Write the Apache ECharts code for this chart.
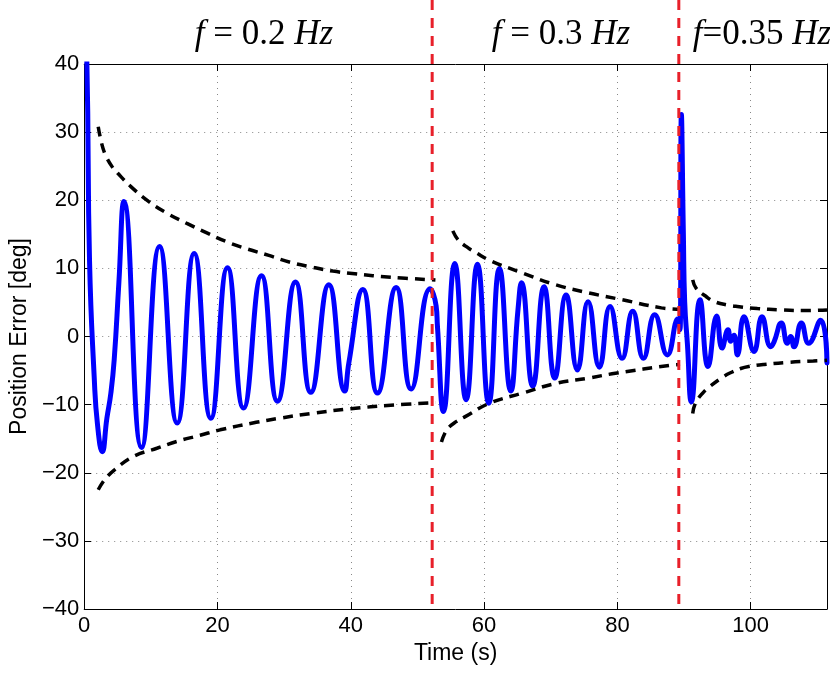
<!DOCTYPE html>
<html><head><meta charset="utf-8">
<script src="https://cdn.jsdelivr.net/npm/echarts@6/dist/echarts.min.js"></script>
<style>html,body{margin:0;padding:0;background:#fff}#c{width:830px;height:673px}</style>
</head><body><div id="c"></div>
<script>
// ---- data ----
const timeS = [0, 0.4, 0.8, 1.5, 2.0, 2.7, 3.4, 4.0, 4.5, 5.2, 5.96, 8.6, 11.3, 13.95, 16.5, 19.0, 21.5, 23.9, 26.6, 29.0, 31.7, 34.0, 36.7, 39.1, 39.7, 41.8, 44.0, 46.8, 49.05, 51.9, 52.8, 53.0, 53.9, 55.6, 57.3, 59.0, 60.7, 62.3, 64.0, 65.1, 65.6, 67.3, 69.0, 70.6, 72.3, 74.0, 75.6, 77.3, 78.9, 80.7, 82.3, 83.9, 85.6, 87.5, 89.1, 89.4, 89.6, 89.9, 90.1, 90.5, 91.1, 92.4, 93.6, 94.9, 95.7, 96.6, 97.0, 97.5, 98.0, 99.0, 100.5, 101.7, 103.0, 103.5, 104.6, 105.5, 106.0, 106.5, 107.6, 108.7, 110.5, 111.45];
const errorDeg = [46, 40, 11, -6, -13, -16.9, -12.0, -8.3, -3.4, 7.9, 19.8, -16.3, 13.2, -12.7, 12.2, -12.0, 10.1, -10.5, 8.9, -9.5, 8.0, -8.2, 7.6, -8.0, -3.9, 6.9, -8.3, 7.2, -7.7, 7.0, 4.5, 1.5, -11.0, 10.7, -9.3, 10.6, -9.8, 10.0, -8.0, 4.1, 7.9, -7.3, 7.3, -6.1, 6.1, -4.9, 5.1, -4.5, 4.4, -3.2, 3.7, -3.2, 3.2, -2.7, 2.6, 1.0, 32.6, 15, 5, -1, -9.6, 5.4, -4.4, 3.0, -1.7, 1.0, -0.7, 0.2, -2.7, 2.9, -2.2, 2.9, -1.5, -0.8, 2.0, -1.0, 0, -1.5, 2.0, -1.0, 2.4, -3.9];

const upper1T = [2.1, 2.6, 3.2, 4.2, 5.0, 7.0, 9.7, 12.4, 15.4, 18.4, 21.4, 24.3, 27.7, 30.9, 34.1, 37.3, 40.6, 46.0, 52.7];
const upper1E = [30.8, 28.4, 26.6, 24.9, 24.0, 22.0, 19.8, 18.1, 16.6, 15.2, 13.9, 12.9, 11.9, 10.9, 10.2, 9.6, 9.2, 8.7, 8.3];
const lower1T = [2.1, 3.0, 4.5, 7.4, 10.9, 13.9, 17.4, 20.4, 25.8, 29.3, 34.0, 40.0, 46.0, 52.7];
const lower1E = [-22.5, -21.1, -19.6, -17.6, -16.4, -15.4, -14.5, -13.7, -12.6, -12.0, -11.3, -10.6, -10.1, -9.7];
const upper2T = [55.3, 56.1, 57.6, 58.8, 60.8, 65.8, 70.7, 75.7, 80.7, 86.6, 89.4];
const upper2E = [15.5, 14.2, 13.0, 12.3, 11.2, 9.3, 7.6, 6.4, 5.4, 4.2, 4.0];
const lower2T = [53.6, 54.4, 55.8, 57.1, 60.8, 65.8, 70.7, 75.7, 79.7, 88.1, 89.4];
const lower2E = [-15.5, -13.7, -12.5, -11.8, -9.8, -8.3, -6.9, -6.1, -5.4, -4.2, -4.1];
const upper3T = [91.3, 91.8, 93.4, 94.6, 96.6, 98.0, 101.0, 104.5, 108.0, 111.45];
const upper3E = [8.3, 7.1, 5.8, 5.1, 4.6, 4.4, 4.1, 3.9, 3.8, 3.9];
const lower3T = [91.3, 91.7, 92.8, 93.8, 95.6, 96.8, 98.5, 99.7, 102.0, 105.4, 109.4, 111.45];
const lower3E = [-11.3, -9.8, -8.3, -7.4, -6.1, -5.4, -4.7, -4.4, -4.1, -3.8, -3.6, -3.5];

const switchTimes = [52.7, 89.4];
const freqLabels = ['{i|f}{n| = 0.2 }{i|Hz}', '{i|f}{n| = 0.3 }{i|Hz}', '{i|f}{n|=0.35 }{i|Hz}'];
const xTickLabels = [0, 20, 40, 60, 80, 100];
const yTickLabels = [-40, -30, -20, -10, 0, 10, 20, 30, 40];
const xMax = 111.45;

// ---- chart ----
const pairs = (t, v) => t.map((x, i) => [x, v[i]]);
const sans = 'Liberation Sans, Arial, Helvetica, sans-serif';
const serif = 'Liberation Serif, Times New Roman, serif';
const gridL = 78, gridR = 3, gridT = 64, gridB = 64;
const labelCenters = [259, 556, 757];

const envelopes = [[upper1T, upper1E], [lower1T, lower1E], [upper2T, upper2E], [lower2T, lower2E], [upper3T, upper3E], [lower3T, lower3E]];

const chart = echarts.init(document.getElementById('c'), null, {renderer: 'canvas'});
const axisCommon = {
  axisLine: {show: true, onZero: false, lineStyle: {color: '#000', width: 1}},
  axisTick: {show: true, inside: true, length: 7, lineStyle: {color: '#000', width: 1}}
};
chart.setOption({
  animation: false,
  backgroundColor: '#fff',
  title: freqLabels.map((t, i) => ({
    text: t, left: labelCenters[i], top: 12, textAlign: 'center',
    textStyle: {fontWeight: 'normal', fontFamily: serif, fontSize: 35, rich: {
      i: {fontFamily: serif, fontStyle: 'italic', fontWeight: 'normal', fontSize: 35, color: '#000'},
      n: {fontFamily: serif, fontWeight: 'normal', fontSize: 35, color: '#000'}
    }}
  })),
  grid: [
    {left: gridL, right: gridR, top: gridT, bottom: gridB, containLabel: false},
    {left: gridL, right: gridR, top: 0, bottom: gridB, containLabel: false}
  ],
  xAxis: [
    Object.assign({}, axisCommon, {
      type: 'value', gridIndex: 0, position: 'bottom', min: 0, max: xMax, interval: 20,
      axisLabel: {fontFamily: sans, fontSize: 22, color: '#000', margin: 6,
        formatter: v => xTickLabels.includes(v) ? String(v) : ''},
      splitLine: {show: true, lineStyle: {color: '#888', width: 1, type: [1, 5]}},
      name: 'Time (s)', nameLocation: 'middle', nameGap: 23,
      nameTextStyle: {fontFamily: sans, fontSize: 23, color: '#000'}
    }),
    Object.assign({}, axisCommon, {
      type: 'value', gridIndex: 0, position: 'top', min: 0, max: xMax, interval: 20,
      axisLabel: {show: false}, splitLine: {show: false}
    }),
    {type: 'value', gridIndex: 1, min: 0, max: xMax, show: false}
  ],
  yAxis: [
    Object.assign({}, axisCommon, {
      type: 'value', gridIndex: 0, position: 'left', min: -40, max: 40, interval: 10,
      axisLabel: {fontFamily: sans, fontSize: 22, color: '#000', margin: 5,
        formatter: v => yTickLabels.includes(v) ? String(v).replace('-', '\u2212') : ''},
      splitLine: {show: true, lineStyle: {color: '#888', width: 1, type: [1, 5]}},
      name: 'Position Error [deg]', nameLocation: 'middle', nameGap: 49, nameRotate: 90,
      nameTextStyle: {fontFamily: sans, fontSize: 23, color: '#000'}
    }),
    Object.assign({}, axisCommon, {
      type: 'value', gridIndex: 0, position: 'right', min: -40, max: 40, interval: 10,
      axisLabel: {show: false}, splitLine: {show: false}
    }),
    {type: 'value', gridIndex: 1, min: 0, max: 1, show: false}
  ],
  series: [
    {
      type: 'line', xAxisIndex: 0, yAxisIndex: 0, data: pairs(timeS, errorDeg),
      smooth: 0.5, showSymbol: false, symbol: 'none', clip: true,
      lineStyle: {color: '#0000ff', width: 5, join: 'round', cap: 'round'}, z: 3
    }
  ].concat(envelopes.map(([t, e]) => ({
      type: 'line', xAxisIndex: 0, yAxisIndex: 0, data: pairs(t, e),
      smooth: 0.4, showSymbol: false, symbol: 'none', clip: true,
      lineStyle: {color: '#000', width: 3.5, type: [10, 7], cap: 'butt'}, z: 4
  }))).concat(switchTimes.map(t => ({
      type: 'line', xAxisIndex: 2, yAxisIndex: 2, data: [[t, 1], [t, 0]],
      showSymbol: false, symbol: 'none', clip: false,
      lineStyle: {color: '#e8202a', width: 3, type: [10, 8], cap: 'butt'}, z: 5
  })))
});
</script></body></html>
